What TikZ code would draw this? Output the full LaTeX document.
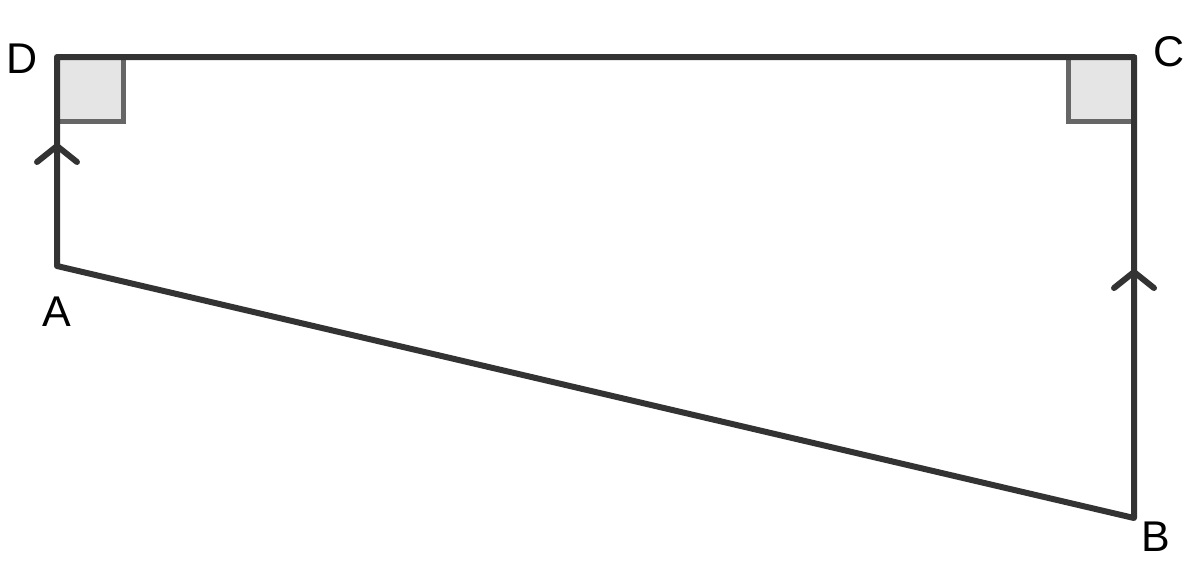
\documentclass[tikz,border=0pt]{standalone}
\usepackage{fontspec}
\setmainfont{Liberation Sans}

\tikzset{
  edge/.style={draw=black!80, line width=6pt, line cap=round, line join=round},
  rightangle/.style={fill=black!10, draw=black!60, line width=5pt},
  tick/.style={draw=black!80, line width=6pt, line cap=round, line join=round},
  vertex/.style={font=\fontsize{43}{43}\selectfont, inner sep=0pt}
}

\begin{document}
\begin{tikzpicture}[x=1pt, y=-1pt]
\useasboundingbox (0,0) rectangle (1200,579);
% corners
\coordinate (A) at (57,266);
\coordinate (B) at (1134,518);
\coordinate (C) at (1134,57);
\coordinate (D) at (57,57);
% right angles
\path[rightangle] (D) rectangle ++(66,64);
\path[rightangle] (C) rectangle ++(-66,64);
% sides
\draw[edge] (A) -- (B) -- (C) -- (D) -- cycle;
% parallel marks
\draw[tick] (37,162) -- (57,146) -- (77,162);
\draw[tick] (1114,288) -- (1134,272) -- (1154,288);
% labels
\node[vertex] (labA) at (57,312) {A};
\node[vertex] (labB) at (1156,537) {B};
\node[vertex] (labC) at (1169,52) {C};
\node[vertex] (labD) at (22,59) {D};
\end{tikzpicture}
\end{document}
